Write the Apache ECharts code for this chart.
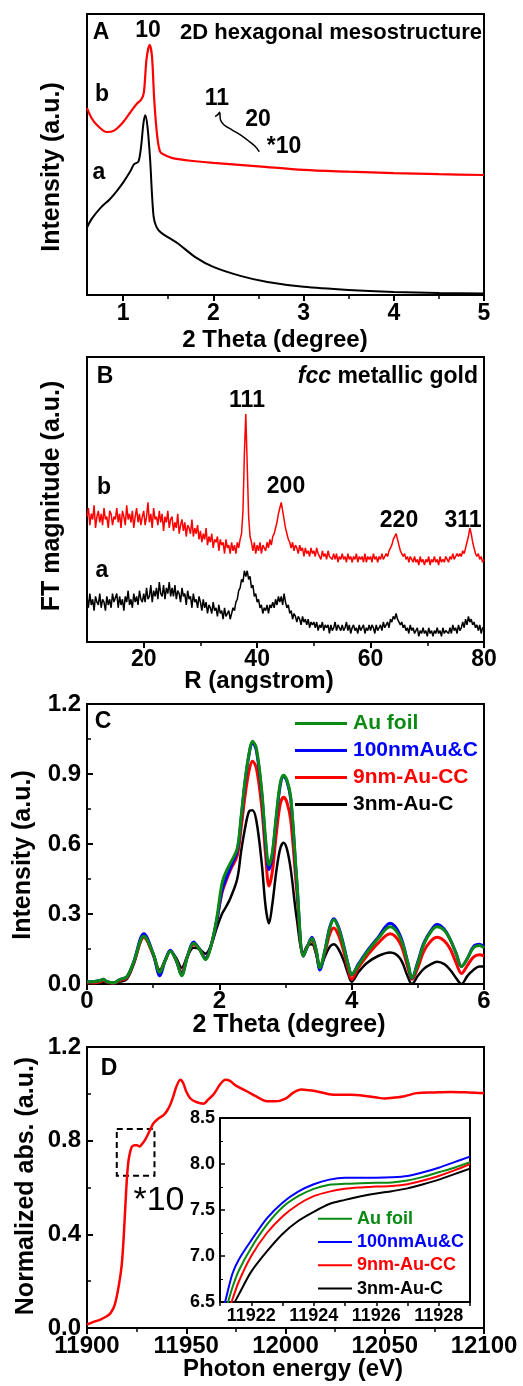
<!DOCTYPE html>
<html><head><meta charset="utf-8">
<script src="https://cdn.jsdelivr.net/npm/echarts@6/dist/echarts.min.js"></script>
<style>html,body{margin:0;padding:0;background:#fff}#c{width:523px;height:1386px}</style>
</head><body><div id="c"></div>
<script>
// ---------- Panel A (SAXS) ----------
const aBlackX = [0.6,0.65,0.75,0.85,0.93,1.0,1.08,1.12,1.17,1.2,1.225,1.246,1.27,1.3,1.32,1.338,1.36,1.394,1.45,1.6,1.8,2.0,2.3,2.6,3.0,3.5,4.0,4.5,5.0];
const aBlackY = [24,27,31,34,37,40,44,46.5,47.5,53,61,64,60,48,36,28,25,23,21.5,18.5,13.5,10,6.8,4.6,2.9,1.8,1.1,0.7,0.5];
const aRedX = [0.6,0.65,0.71,0.82,0.9,1.0,1.08,1.15,1.2,1.23,1.26,1.294,1.32,1.346,1.38,1.41,1.45,1.56,1.8,2.0,2.5,3.0,3.5,4.0,4.5,5.0];
const aRedY = [66.5,63,60.5,58,58.5,61.5,65,68,69.5,72,84,89,85,69,56,51,50,48.6,47.6,47,45.8,44.5,43.9,43.4,43,42.7];
const aZoomX = [2.02,2.05,2.07,2.08,2.12,2.21,2.3,2.4,2.46,2.51];
const aZoomY = [63.5,64.2,65,62.3,60.5,58.7,57,54.6,53,51];
const aTickLabels = [1,2,3,4,5];
const aMinorTicks = [1.5,2.5,3.5,4.5];

// ---------- Panel B (XRD), sampled every 0.25 from 10 to 80 ----------
const bStart = 10, bStep = 0.25;
const bRed = [
  44,47,41,45,43,48,40,44,46,42,45,41,47,43,44,40,46,45,41,44,
  43,47,42,45,40,46,44,41,48,43,45,42,46,40,44,47,42,45,41,44,
  46,41,44,49,42,45,40,47,43,44,41,46,42,45,39,44,42,46,40,43,
  44,39,42,40,45,38,41,43,39,42,37,41,40,38,43,37,40,38,41,36,
  39,35,38,36,40,34,37,35,38,33,36,35,37,32,36,34,35,31,36,33,
  34,31,35,32,34,31,35,33,36,38,46,66,80,62,44,37,35,32,35,31,
  34,32,35,31,34,33,32,35,33,36,34,37,38,40,42,45,47,49,46,43,
  40,38,36,35,33,35,32,34,33,31,34,32,33,30,33,31,32,30,33,31,
  32,30,33,31,31,29,32,30,31,29,32,30,30,29,31,29,31,28,30,29,
  31,29,30,28,31,29,30,28,30,29,31,28,30,29,30,28,31,28,30,29,
  30,28,31,29,30,28,30,29,31,29,30,31,30,32,33,34,36,37,38,36,
  34,32,31,30,31,29,30,28,30,29,28,30,28,29,27,30,28,29,27,29,
  28,30,27,29,28,30,28,29,27,30,28,29,28,30,29,28,30,29,31,29,
  30,31,30,31,30,32,31,33,35,37,40,38,35,33,31,30,31,29,30,28,
  29];
const bBlack = [
  16,12,17,13,15,11,16,14,13,17,12,15,14,11,16,13,15,12,17,14,
  14,17,12,16,13,15,11,16,14,18,13,15,12,17,14,16,13,18,15,14,
  17,14,19,15,16,20,14,18,16,19,15,21,17,16,20,15,19,17,21,16,
  19,16,20,15,18,17,14,19,16,17,13,18,15,16,12,17,14,15,12,16,
  14,11,15,12,14,10,13,12,10,14,11,12,9,13,10,11,8,12,9,10,
  11,8,10,12,11,14,15,18,19,22,21,25,23,25,22,23,19,20,16,17,
  14,15,12,13,10,12,11,13,10,13,12,14,12,15,13,16,14,16,13,17,
  14,12,13,10,11,8,10,9,7,9,8,6,9,7,8,6,8,5,7,6,
  7,5,7,4,6,5,7,4,6,5,6,3,6,4,5,7,4,6,5,4,
  6,4,5,7,4,6,3,5,6,4,5,3,6,4,5,6,3,5,4,6,
  4,6,5,3,6,4,5,6,4,7,5,6,7,5,8,7,9,8,10,8,
  8,6,7,5,6,4,5,3,6,4,5,3,4,5,2,4,3,5,3,4,
  2,5,3,4,2,4,3,5,3,4,2,5,3,4,4,3,5,3,6,4,
  5,3,6,4,5,7,5,8,6,9,7,8,6,7,5,6,4,6,3,5,
  5];
const bTickLabels = [20,40,60,80];
const bMinorTicks = [30,50,70];

// ---------- Panel C ----------
const cX = [0,0.1,0.2,0.25,0.3,0.4,0.5,0.6,0.7,0.86,1.0,1.1,1.18,1.26,1.35,1.43,1.52,1.61,1.7,1.79,1.88,1.96,2.04,2.1,2.17,2.27,2.33,2.39,2.45,2.5,2.56,2.64,2.7,2.75,2.8,2.86,2.92,2.97,3.02,3.08,3.17,3.27,3.33,3.4,3.46,3.52,3.6,3.67,3.73,3.8,3.88,3.95,4.0,4.1,4.23,4.4,4.58,4.73,4.85,4.91,5.0,5.09,5.2,5.29,5.4,5.49,5.58,5.66,5.75,5.84,5.93,6.0];
const cAuFoil = [0.01,0.01,0.015,0.02,0.01,0.005,0.02,0.03,0.09,0.205,0.13,0.05,0.10,0.14,0.10,0.035,0.12,0.175,0.15,0.105,0.17,0.28,0.43,0.48,0.52,0.58,0.72,0.875,0.99,1.04,1.01,0.83,0.62,0.51,0.56,0.72,0.86,0.895,0.875,0.80,0.45,0.12,0.16,0.195,0.15,0.07,0.15,0.24,0.275,0.24,0.16,0.08,0.04,0.08,0.135,0.195,0.245,0.2,0.09,0.025,0.09,0.17,0.225,0.245,0.23,0.19,0.13,0.075,0.11,0.155,0.165,0.155];
const c100nm = [0.01,0.01,0.015,0.02,0.01,0.005,0.02,0.03,0.09,0.215,0.13,0.035,0.10,0.145,0.10,0.04,0.12,0.18,0.15,0.11,0.17,0.27,0.40,0.45,0.50,0.57,0.71,0.87,0.985,1.035,1.0,0.82,0.60,0.49,0.55,0.71,0.85,0.89,0.87,0.79,0.44,0.12,0.16,0.2,0.15,0.06,0.15,0.245,0.28,0.245,0.165,0.08,0.04,0.085,0.14,0.2,0.26,0.21,0.09,0.025,0.095,0.175,0.23,0.255,0.235,0.19,0.13,0.075,0.11,0.16,0.17,0.16];
const c9nm = [0.005,0.005,0.01,0.015,0.008,0.003,0.015,0.025,0.085,0.2,0.125,0.05,0.10,0.14,0.10,0.05,0.12,0.17,0.15,0.11,0.17,0.27,0.39,0.44,0.49,0.55,0.67,0.81,0.915,0.955,0.925,0.76,0.55,0.42,0.48,0.64,0.77,0.80,0.78,0.70,0.40,0.12,0.16,0.185,0.14,0.07,0.14,0.215,0.24,0.21,0.14,0.06,0.02,0.07,0.12,0.175,0.215,0.175,0.07,0.02,0.07,0.14,0.185,0.20,0.185,0.15,0.09,0.045,0.08,0.115,0.125,0.12];
const c3nm = [0.005,0.005,0.008,0.01,0.005,0.003,0.01,0.02,0.08,0.2,0.13,0.06,0.10,0.14,0.11,0.07,0.12,0.155,0.15,0.13,0.17,0.24,0.30,0.33,0.37,0.45,0.57,0.67,0.74,0.745,0.70,0.52,0.33,0.26,0.34,0.48,0.58,0.605,0.58,0.49,0.28,0.13,0.165,0.17,0.13,0.07,0.12,0.16,0.17,0.15,0.10,0.04,0.01,0.05,0.09,0.12,0.135,0.11,0.03,0.0,0.035,0.065,0.085,0.095,0.085,0.06,0.025,0.0,0.035,0.06,0.075,0.075];

// ---------- Panel D ----------
const dX = [11900,11903,11906.7,11910,11912,11914,11916,11917.5,11918.5,11919.5,11920.2,11921,11922,11922.7,11924,11925.2,11926.5,11927.7,11929,11930.3,11932,11933.6,11936,11938.7,11940.5,11942,11943.5,11945,11947,11948.5,11950,11952.1,11955,11958.8,11961,11964,11967,11969.7,11972,11975,11980.7,11985,11990.8,11995,12000,12004,12008,12012,12016,12024,12033,12041,12046,12050,12055,12060,12066,12075,12083,12092,12100];
const dY = [0.015,0.025,0.036,0.05,0.065,0.1,0.18,0.27,0.39,0.55,0.65,0.72,0.76,0.775,0.78,0.78,0.775,0.785,0.80,0.82,0.85,0.875,0.895,0.91,0.93,0.955,0.99,1.03,1.06,1.045,1.01,0.98,0.965,0.958,0.975,1.0,1.04,1.06,1.055,1.035,1.01,0.99,0.968,0.968,0.98,1.005,1.018,1.015,1.01,0.996,0.996,0.99,0.984,0.98,0.984,0.99,1.003,1.006,1.008,1.006,1.003];
// inset (x10)
const iX = [11921.0,11921.2,11921.4,11921.6,11922,11922.5,11923,11923.5,11924,11924.5,11925,11925.5,11926,11926.5,11927,11927.5,11928,11928.5,11929];
const iAuFoil = [6.2,6.43,6.66,6.84,7.09,7.34,7.53,7.65,7.73,7.775,7.785,7.79,7.795,7.80,7.82,7.86,7.91,7.96,8.02];
const i100nm = [6.28,6.55,6.81,6.96,7.17,7.41,7.58,7.70,7.78,7.83,7.85,7.85,7.85,7.855,7.87,7.91,7.96,8.02,8.08];
const i9nm = [6.1,6.32,6.53,6.72,7.0,7.25,7.43,7.56,7.65,7.70,7.73,7.745,7.755,7.76,7.78,7.82,7.87,7.93,8.0];
const i3nm = [6.15,6.31,6.45,6.58,6.83,7.05,7.24,7.38,7.48,7.565,7.61,7.65,7.68,7.705,7.735,7.78,7.83,7.89,7.95];
const iTickLabels = [11922,11924,11926,11928];

const names = ['Au foil','100nmAu&C','9nm-Au-CC','3nm-Au-C'];
const colors = {'Au foil':'#0a8a12','100nmAu&C':'#0000ff','9nm-Au-CC':'#ff0000','3nm-Au-C':'#000000'};

const FONT = 'Arial, "Liberation Sans", Helvetica, sans-serif';
const zip = (xs, ys) => xs.map((x, i) => [x, ys[i]]);
const bX = bRed.map((_, i) => bStart + i * bStep);

const grids = [
  {left:87, top:14, width:397, height:281},
  {left:87, top:357, width:397, height:285},
  {left:87, top:704, width:397, height:280},
  {left:87, top:1047, width:397, height:281},
  {left:220, top:1118, width:250, height:184}
].map(g => Object.assign({show:true, borderColor:'#000', borderWidth:2, backgroundColor:'#fff', containLabel:false}, g));

const axLine = {show:true, onZero:false, lineStyle:{color:'#000', width:2}};
const lab = (size, extra) => Object.assign({color:'#000', fontSize:size, fontWeight:'bold', fontFamily:FONT}, extra||{});

const xAxes = [
  {gridIndex:0, type:'value', min:0.6, max:5, position:'bottom', axisLine:axLine, splitLine:{show:false},
   axisTick:{show:true, customValues:aTickLabels, length:6, lineStyle:{width:2,color:'#000'}},
   axisLabel:lab(23,{customValues:aTickLabels, margin:7})},
  {gridIndex:0, type:'value', min:0.6, max:5, position:'bottom', axisLine:{show:false}, splitLine:{show:false},
   axisTick:{show:true, customValues:aMinorTicks, length:4, lineStyle:{width:1.5,color:'#000'}}, axisLabel:{show:false}},
  {gridIndex:1, type:'value', min:10, max:80, position:'bottom', axisLine:axLine, splitLine:{show:false},
   axisTick:{show:true, customValues:bTickLabels, length:6, lineStyle:{width:2,color:'#000'}},
   axisLabel:lab(23,{customValues:bTickLabels, margin:6})},
  {gridIndex:1, type:'value', min:10, max:80, position:'bottom', axisLine:{show:false}, splitLine:{show:false},
   axisTick:{show:true, customValues:bMinorTicks, length:4, lineStyle:{width:1.5,color:'#000'}}, axisLabel:{show:false}},
  {gridIndex:2, type:'value', min:0, max:6, interval:2, position:'bottom', axisLine:axLine, splitLine:{show:false},
   axisTick:{show:true, length:6, lineStyle:{width:2,color:'#000'}},
   minorTick:{show:true, splitNumber:2, length:4, lineStyle:{width:1.5,color:'#000'}},
   axisLabel:lab(24,{margin:5})},
  {gridIndex:3, type:'value', min:11900, max:12100, interval:50, position:'bottom', axisLine:axLine, splitLine:{show:false},
   axisTick:{show:true, length:6, lineStyle:{width:2,color:'#000'}},
   minorTick:{show:true, splitNumber:2, length:4, lineStyle:{width:1.5,color:'#000'}},
   axisLabel:lab(24,{margin:6, showMaxLabel:true, showMinLabel:true, formatter:v => String(v)})},
  {gridIndex:4, type:'value', min:11921, max:11929, interval:1, position:'bottom', axisLine:axLine, splitLine:{show:false},
   axisTick:{show:true, length:4, lineStyle:{width:1.5,color:'#000'}},
   axisLabel:lab(18,{margin:5, formatter:v => iTickLabels.indexOf(v) >= 0 ? String(v) : ''})}
];

const yAxes = [
  {gridIndex:0, type:'value', min:0, max:100, axisLine:axLine, axisTick:{show:false}, axisLabel:{show:false}, splitLine:{show:false}},
  {gridIndex:1, type:'value', min:0, max:100, axisLine:axLine, axisTick:{show:false}, axisLabel:{show:false}, splitLine:{show:false}},
  {gridIndex:2, type:'value', min:0, max:1.2, interval:0.3, axisLine:axLine, splitLine:{show:false},
   axisTick:{show:true, inside:true, length:6, lineStyle:{width:2,color:'#000'}},
   minorTick:{show:true, splitNumber:2, length:4, lineStyle:{width:1.5,color:'#000'}},
   axisLabel:lab(24,{margin:6, formatter:v => v.toFixed(1)})},
  {gridIndex:3, type:'value', min:0, max:1.2, interval:0.4, axisLine:axLine, splitLine:{show:false},
   axisTick:{show:true, inside:true, length:6, lineStyle:{width:2,color:'#000'}},
   minorTick:{show:true, splitNumber:2, length:4, lineStyle:{width:1.5,color:'#000'}},
   axisLabel:lab(24,{margin:6, formatter:v => v.toFixed(1)})},
  {gridIndex:4, type:'value', min:6.5, max:8.5, interval:0.5, axisLine:axLine, splitLine:{show:false},
   axisTick:{show:true, inside:true, length:5, lineStyle:{width:1.5,color:'#000'}},
   minorTick:{show:true, splitNumber:2, length:3, lineStyle:{width:1,color:'#000'}},
   axisLabel:lab(18,{margin:5, formatter:v => v.toFixed(1)})}
];

const line = (name, data, xi, yi, color, width, extra) => Object.assign({
  name, type:'line', data, xAxisIndex:xi, yAxisIndex:yi, showSymbol:false, symbol:'none',
  lineStyle:{color, width}, itemStyle:{color}, animation:false, silent:true, clip:true
}, extra||{});

const series = [
  line('A-a', zip(aBlackX, aBlackY), 0, 0, '#000', 2, {smooth:0.3}),
  line('A-b', zip(aRedX, aRedY), 0, 0, '#ff0000', 2.2, {smooth:0.3}),
  line('A-zoom', zip(aZoomX, aZoomY), 0, 0, '#000', 1.5, {smooth:0.3}),
  line('B-b', zip(bX, bRed), 2, 1, '#ff0000', 1.5),
  line('B-a', zip(bX, bBlack), 2, 1, '#000', 1.5),
  line('3nm-Au-C', zip(cX, c3nm), 4, 2, colors['3nm-Au-C'], 2.5, {smooth:0.35}),
  line('9nm-Au-CC', zip(cX, c9nm), 4, 2, colors['9nm-Au-CC'], 3, {smooth:0.35}),
  line('100nmAu&C', zip(cX, c100nm), 4, 2, colors['100nmAu&C'], 3, {smooth:0.35}),
  line('Au foil', zip(cX, cAuFoil), 4, 2, colors['Au foil'], 3, {smooth:0.35}),
  line('D-main', zip(dX, dY), 5, 3, '#ff0000', 2.5, {smooth:0.3,
    markArea:{silent:true, itemStyle:{color:'rgba(0,0,0,0)', borderColor:'#000', borderWidth:2, borderType:[6,4]},
      data:[[{coord:[11915, 0.85]}, {coord:[11934, 0.65]}]]}}),
  line('3nm-Au-C', zip(iX, i3nm), 6, 4, colors['3nm-Au-C'], 2, {smooth:0.3}),
  line('9nm-Au-CC', zip(iX, i9nm), 6, 4, colors['9nm-Au-CC'], 2, {smooth:0.3}),
  line('Au foil', zip(iX, iAuFoil), 6, 4, colors['Au foil'], 2, {smooth:0.3}),
  line('100nmAu&C', zip(iX, i100nm), 6, 4, colors['100nmAu&C'], 2, {smooth:0.3})
];

const legendData = (size) => names.map(n => ({name:n, textStyle:{color:colors[n], fontSize:size, fontWeight:'bold', fontFamily:FONT}}));

const legends = [
  {show:true, orient:'vertical', left:295, top:710, padding:0, itemGap:0, itemWidth:52, itemHeight:27,
   selectedMode:false, icon:'path://M0,12 L52,12 L52,15 L0,15 Z', data:legendData(21),
   textStyle:{lineHeight:27, padding:[0,0,0,1]}},
  {show:true, orient:'vertical', left:318, top:1207, padding:0, itemGap:0, itemWidth:34, itemHeight:23.3,
   selectedMode:false, icon:'path://M0,10.5 L34,10.5 L34,12.5 L0,12.5 Z', data:legendData(18),
   textStyle:{lineHeight:23.3, padding:[0,0,0,0]}}
];

const T = (text, x, y, size, opts) => Object.assign({type:'text', x, y, z:100, silent:true,
  style:Object.assign({text, fill:'#000', fontSize:size, fontWeight:'bold', fontFamily:FONT, align:'center', verticalAlign:'middle'}, (opts&&opts.style)||{})},
  (opts&&opts.el)||{});
const R = Math.PI/2;

const graphic = [
  T('A', 101, 33, 23),
  T('10', 148, 31, 23),
  T('2D hexagonal mesostructure', 482, 33, 22, {style:{align:'right'}}),
  T('b', 102, 95, 23),
  T('a', 99, 173, 23),
  T('11', 217, 99, 23),
  T('20', 258, 120, 23),
  T('*10', 284, 147, 23),
  T('2 Theta (degree)', 275, 340, 24),
  T('Intensity (a.u.)', 52, 167, 25, {el:{rotation:R}}),
  T('B', 105, 377, 23),
  {type:'text', x:478, y:377, z:100, silent:true, style:{text:'{i|fcc} metallic gold', fill:'#000', fontSize:23, fontWeight:'bold', fontFamily:FONT,
     align:'right', verticalAlign:'middle', rich:{i:{fontStyle:'italic', fontWeight:'bold', fontSize:23, fontFamily:FONT, fill:'#000'}}}},
  T('111', 247, 401, 23),
  T('200', 286, 487, 23),
  T('220', 399, 521, 23),
  T('311', 463, 521, 23),
  T('b', 104, 488, 23),
  T('a', 102, 571, 23),
  T('R (angstrom)', 259, 681, 24),
  T('FT magnitude (a.u.)', 52, 496, 25, {el:{rotation:R}}),
  T('C', 103, 722, 23),
  T('2 Theta (degree)', 289, 1025, 25),
  T('Intensity (a.u.)', 23, 855, 25, {el:{rotation:R}}),
  T('D', 109, 1069, 23),
  T('*10', 159, 1201, 34, {style:{fontWeight:'normal'}}),
  T('Photon energy (eV)', 293, 1369, 24),
  T('Normalized abs. (a.u.)', 26, 1186, 25, {el:{rotation:R}})
];

const chart = echarts.init(document.getElementById('c'), null, {renderer:'canvas'});
chart.setOption({
  backgroundColor:'#fff',
  animation:false,
  textStyle:{fontFamily:FONT},
  grid:grids, xAxis:xAxes, yAxis:yAxes, series, legend:legends, graphic
});
</script></body></html>
